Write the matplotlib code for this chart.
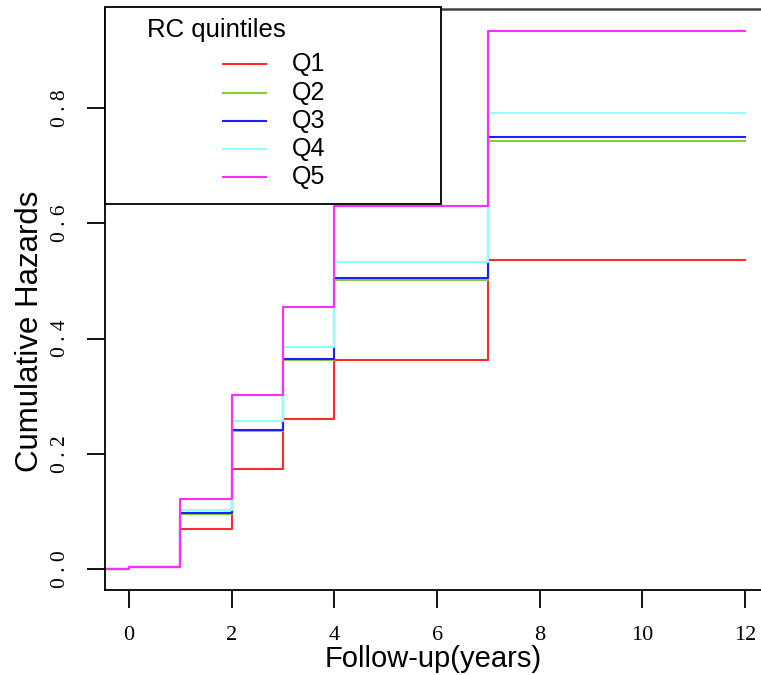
import numpy as np
import matplotlib
matplotlib.use('Agg')
import matplotlib.pyplot as plt
from matplotlib.patches import Rectangle

# Cumulative hazard step values
times = [-0.5, 0, 1, 2, 3, 4, 7, 12]
q1 = [0, 0.004, 0.069, 0.174, 0.260, 0.362, 0.537, 0.537]
q2 = [0, 0.004, 0.096, 0.240, 0.362, 0.502, 0.743, 0.743]
q3 = [0, 0.004, 0.097, 0.242, 0.365, 0.505, 0.750, 0.750]
q4 = [0, 0.004, 0.102, 0.256, 0.385, 0.533, 0.791, 0.791]
q5 = [0, 0.004, 0.121, 0.302, 0.454, 0.630, 0.934, 0.934]

labels = ['Q1', 'Q2', 'Q3', 'Q4', 'Q5']
colors = ['#FF2A2A', '#7FD13B', '#1E1EFF', '#8FFFFF', '#FF2BFF']
series = [q1, q2, q3, q4, q5]

xticks = [0, 2, 4, 6, 8, 10, 12]
yticks = [0.0, 0.2, 0.4, 0.6, 0.8]

fig = plt.figure(figsize=(7.61, 6.75), dpi=100)
ax = fig.add_axes([105 / 761, 1 - 590 / 675, 1 - 105 / 761, (590 - 9) / 675])

for vals, c in zip(series, colors):
    ax.step(times, vals, where='post', color=c, linewidth=1.5)

ax.set_xlim(-0.47, 12.31)
ax.set_ylim(-0.0365, 0.972)

ax.spines['right'].set_visible(False)
for s in ['left', 'bottom']:
    ax.spines[s].set_linewidth(1.3)
ax.spines['top'].set_linewidth(1.8)
ax.spines['top'].set_color('#444444')

ax.set_xticks(xticks)
ax.set_xticklabels([str(t) for t in xticks], fontfamily='Liberation Serif', fontsize=16)
ax.set_yticks(yticks)
ax.set_yticklabels([f'{t:.1f}'.replace('.', ' . ') for t in yticks],
                   fontfamily='Liberation Serif', fontsize=15.5, rotation=90, va='center')
ax.tick_params(axis='x', direction='out', length=13, width=1.3, pad=13)
ax.tick_params(axis='y', direction='out', length=13, width=1.3, pad=12)

ax.set_xlabel('Follow-up(years)', fontfamily='Liberation Sans', fontsize=21, labelpad=0)
ax.set_ylabel('Cumulative Hazards', fontfamily='Liberation Sans', fontsize=22.5)
ax.yaxis.set_label_coords(-0.091, 0.446)

# legend box drawn by hand to match the original layout
ax.add_patch(Rectangle((0, 0.664), 0.512, 0.34, transform=ax.transAxes,
                       facecolor='white', edgecolor='black', linewidth=1.3,
                       zorder=5, clip_on=False))
ax.text(0.064, 0.964, 'RC quintiles', transform=ax.transAxes, fontfamily='Liberation Sans',
        fontsize=18.5, va='center', ha='left', zorder=6)
rows = [0.905, 0.855, 0.807, 0.759, 0.711]
for lab, c, yy in zip(labels, colors, rows):
    ax.plot([0.180, 0.245], [yy, yy], transform=ax.transAxes, color=c, linewidth=1.5, zorder=6)
    ax.text(0.285, yy, lab, transform=ax.transAxes, fontfamily='Liberation Sans',
            fontsize=18, va='center', ha='left', zorder=6)

fig.savefig('out.png', dpi=100)
